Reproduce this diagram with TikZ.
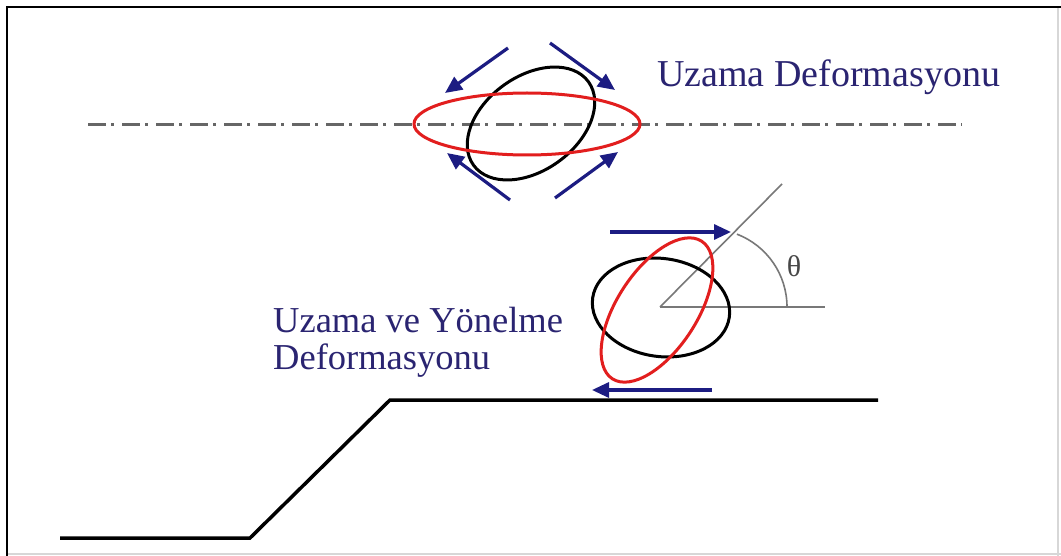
\documentclass[tikz,border=0pt]{standalone}
\usepackage{fontspec}
\setmainfont{Liberation Serif}
\usetikzlibrary{arrows.meta}
\definecolor{navyarrow}{RGB}{28,28,130}
\definecolor{navytext}{RGB}{42,36,113}
\definecolor{redline}{RGB}{226,30,30}
\definecolor{axisgray}{RGB}{120,120,120}
\definecolor{framegray}{RGB}{215,215,215}
\tikzset{
  push/.style={navyarrow, line width=3.2pt, -{Triangle[length=17pt,width=15pt]}},
  redell/.style={redline, line width=3pt},
  blackell/.style={black, line width=3pt},
  guide/.style={axisgray, line width=1.6pt},
  label/.style={navytext, inner sep=0pt, anchor=base west},
}
\begin{document}
\begin{tikzpicture}[x=1pt,y=-1pt]
\useasboundingbox (0,0) rectangle (1061,556);
\fill[white] (0,0) rectangle (1061,556);
% frame
\draw[framegray, line width=1.5pt] (1058,7) -- (1058,556);
\draw[framegray, line width=1.5pt] (7,554) -- (1061,554);
\draw[black, line width=2pt] (7,556) -- (7,7) -- (1061,7);

% extension axis
\draw[axisgray!85!black, line width=3pt,
      dash pattern=on 18pt off 5pt on 3pt off 8pt] (88,125) -- (962,125);

% upper droplet: initial (black) and stretched (red)
\draw[blackell] (531,123.5) ellipse[x radius=71, y radius=47, rotate=36];
\draw[redell] (527,124) ellipse[x radius=113, y radius=31];

% stretching arrows
\coordinate (ulS) at (508,48);  \coordinate (ulE) at (445,93);
\coordinate (urS) at (550,43);  \coordinate (urE) at (615,90);
\coordinate (llS) at (510,200); \coordinate (llE) at (447,153);
\coordinate (lrS) at (555,198); \coordinate (lrE) at (618,152);
\draw[push] (ulS) -- (ulE);
\draw[push] (urS) -- (urE);
\draw[push] (llS) -- (llE);
\draw[push] (lrS) -- (lrE);

\node[label, font=\fontsize{38}{38}\selectfont] (uzama) at (657,87) {Uzama Deformasyonu};

% angle construction
\coordinate (o) at (660,307);
\coordinate (hx) at (825,307);
\coordinate (dx) at (782,184);
\draw[guide] (o) -- (hx);
\draw[guide] (o) -- (dx);
\draw[guide] (787,307) arc[start angle=0, end angle=-69, radius=78];
\node[axisgray!60!black, inner sep=0pt, font=\fontsize{30}{30}\selectfont] (theta) at (794,266) {θ};

% lower droplet: initial (black) and sheared (red)
\draw[blackell] (661,307.5) ellipse[x radius=69, y radius=49, rotate=-8];
\draw[redell] (657,310) ellipse[x radius=82, y radius=40, rotate=57];

% shear arrows
\coordinate (tS) at (610,232); \coordinate (tE) at (731,232);
\coordinate (bS) at (712,390); \coordinate (bE) at (592,390);
\draw[push] (tS) -- (tE);
\draw[push] (bS) -- (bE);

\node[label, font=\fontsize{36.5}{38}\selectfont] (yon1) at (273,332) {Uzama ve Yönelme};
\node[label, font=\fontsize{36.5}{38}\selectfont] (yon2) at (273,370) {Deformasyonu};

% wall profile
\coordinate (g1) at (60,538);
\coordinate (g2) at (250,538);
\coordinate (g3) at (390,400);
\coordinate (g4) at (878,400);
\draw[black, line width=3.5pt, line join=miter] (g1) -- (g2) -- (g3) -- (g4);
\end{tikzpicture}
\end{document}
